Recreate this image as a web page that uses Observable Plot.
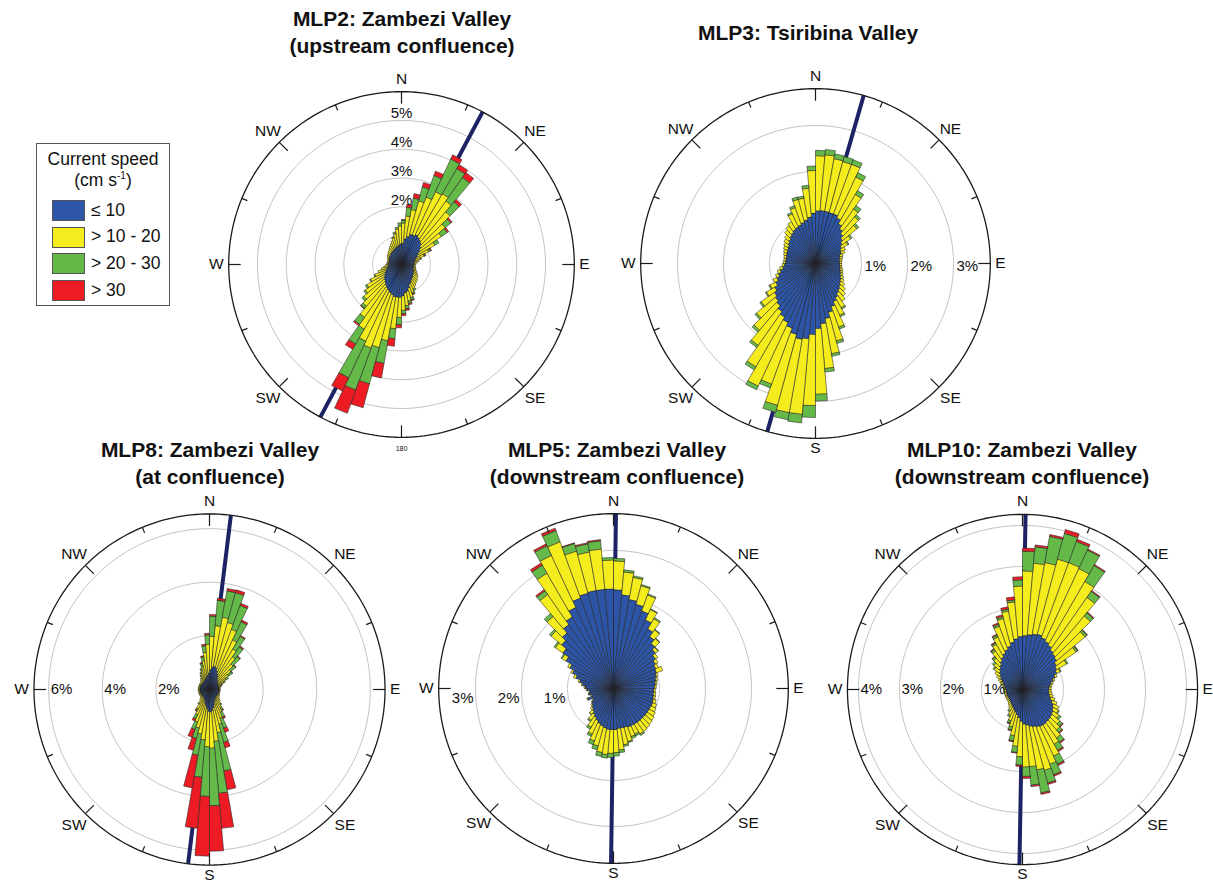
<!DOCTYPE html>
<html><head><meta charset="utf-8">
<script src="https://cdn.jsdelivr.net/npm/d3@7"></script>
<script src="https://cdn.jsdelivr.net/npm/@observablehq/plot@0.6"></script>
<style>
body{margin:0;width:1213px;height:881px;overflow:hidden;background:#fff;position:relative;font-family:"Liberation Sans",Arial,Helvetica,sans-serif;color:#111}
.title{position:absolute;font-weight:bold;font-size:21px;line-height:27px;text-align:center;white-space:nowrap;transform:translateX(-50%)}
.rose{position:absolute;width:400px;height:400px}
.rose svg{display:block}
#legend{position:absolute;left:36px;top:143px;width:132px;height:161px;border:1.5px solid #555;background:#fff}
#legend .lt{position:absolute;left:0;width:132px;text-align:center;font-size:17.5px}
#legend .sw{position:absolute;left:15px;width:31px;height:19px;border:1px solid #555}
#legend .lab{position:absolute;left:54px;font-size:17.5px;line-height:21px;white-space:nowrap}
</style></head>
<body>
<div id="legend"></div>
<script>
// ---- categories ----
const DIRECTIONS = d3.range(72).map(i => 2.5 + 5 * i); // bin centres (deg)
const BIN_WIDTH = 5;
const SPEED_CLASSES = ["≤ 10", "> 10 - 20", "> 20 - 30", "> 30"];
const CLASS_COLORS = ["#2c55a8", "#f5ec1e", "#64b948", "#ed1c24"];
const COMPASS = ["N", "NE", "E", "SE", "S", "SW", "W", "NW"];
const COMPASS_BEARINGS = [0, 45, 90, 135, 180, 225, 270, 315];

// ---- cumulative frequency (%) per direction bin: speed <=10, <=20, <=30, all ----
const MLP2_LE10 = [0.75,0.9,1.0,1.1,1.1,1.15,1.1,1.05,1.0,0.9,
0.8,0.7,0.62,0.55,0.5,0.48,0.45,0.43,0.42,0.42,
0.42,0.43,0.45,0.47,0.5,0.52,0.55,0.58,0.6,0.65,
0.7,0.75,0.85,0.95,1.0,1.1,1.15,1.15,1.15,1.1,
1.05,1.0,0.95,0.9,0.85,0.8,0.75,0.7,0.65,0.6,
0.55,0.5,0.48,0.46,0.45,0.45,0.45,0.45,0.46,0.48,
0.5,0.5,0.52,0.53,0.55,0.56,0.58,0.6,0.62,0.65,
0.68,0.72];
const MLP2_LE20 = [1.45,1.7,1.95,2.3,2.5,2.8,2.85,2.7,2.4,2.0,
1.7,1.35,1.05,0.85,0.7,0.62,0.55,0.5,0.48,0.48,
0.5,0.52,0.55,0.6,0.65,0.7,0.75,0.78,0.82,0.88,
0.95,1.05,1.2,1.3,1.45,1.6,1.85,2.25,2.7,3.0,
3.1,2.95,2.6,2.25,1.9,1.72,1.55,1.4,1.2,1.0,
0.85,0.72,0.62,0.55,0.52,0.5,0.5,0.5,0.52,0.55,
0.58,0.6,0.62,0.65,0.7,0.75,0.8,0.88,0.98,1.1,
1.25,1.35];
const MLP2_LE30 = [1.55,2.0,2.35,2.8,3.3,4.05,3.85,3.7,2.85,2.25,
1.95,1.5,1.12,0.88,0.72,0.62,0.55,0.5,0.48,0.48,
0.5,0.52,0.55,0.6,0.65,0.7,0.75,0.78,0.82,0.88,
1.0,1.1,1.28,1.38,1.55,1.72,2.1,2.6,3.5,4.3,
4.65,4.35,3.2,2.55,2.0,1.8,1.6,1.45,1.22,1.02,
0.85,0.72,0.62,0.55,0.52,0.5,0.5,0.5,0.52,0.55,
0.58,0.6,0.62,0.65,0.7,0.75,0.8,0.88,1.0,1.15,
1.3,1.45];
const MLP2_ALL = [1.56,2.1,2.5,2.95,3.45,4.2,4.0,3.9,2.95,2.3,
2.0,1.5,1.15,0.9,0.72,0.62,0.55,0.5,0.48,0.48,
0.5,0.52,0.55,0.6,0.65,0.7,0.75,0.78,0.82,0.88,
1.0,1.12,1.3,1.42,1.6,1.78,2.2,2.85,4.0,5.15,
5.5,4.85,3.4,2.6,2.02,1.8,1.6,1.45,1.22,1.02,
0.85,0.72,0.62,0.55,0.52,0.5,0.5,0.5,0.52,0.55,
0.58,0.6,0.62,0.65,0.7,0.75,0.8,0.88,1.0,1.15,
1.3,1.45];

const MLP3_LE10 = [1.15,1.16,1.16,1.15,1.15,1.1,1.0,0.92,0.85,0.78,
0.72,0.66,0.62,0.6,0.56,0.54,0.53,0.53,0.53,0.54,
0.55,0.57,0.59,0.62,0.65,0.68,0.72,0.76,0.8,0.86,
0.92,1.0,1.1,1.22,1.32,1.42,1.55,1.65,1.68,1.6,
1.5,1.42,1.35,1.28,1.2,1.15,1.1,1.03,0.96,0.9,
0.84,0.78,0.72,0.68,0.66,0.65,0.65,0.66,0.67,0.68,
0.7,0.73,0.76,0.8,0.83,0.86,0.88,0.9,0.93,0.97,
1.02,1.1];
const MLP3_LE20 = [2.35,2.38,2.32,2.3,2.3,2.08,1.74,1.45,1.33,1.18,
0.94,0.82,0.72,0.68,0.62,0.6,0.58,0.57,0.57,0.58,
0.6,0.62,0.64,0.68,0.72,0.78,0.85,0.92,1.0,1.12,
1.25,1.48,1.75,2.0,2.3,2.85,3.1,3.3,3.3,3.2,
2.8,2.95,2.6,2.18,1.9,1.68,1.45,1.24,1.1,0.98,
0.9,0.84,0.78,0.72,0.7,0.69,0.7,0.72,0.74,0.77,
0.8,0.84,0.88,0.95,1.0,1.05,1.2,1.3,1.45,1.45,
1.65,2.03];
const MLP3_LE30 = [2.46,2.49,2.42,2.41,2.4,2.18,1.83,1.54,1.38,1.23,
0.97,0.84,0.72,0.68,0.62,0.6,0.58,0.57,0.57,0.58,
0.6,0.62,0.64,0.68,0.72,0.78,0.85,0.92,1.0,1.15,
1.28,1.52,1.8,2.05,2.37,2.99,3.35,3.48,3.45,3.35,
2.88,3.03,2.67,2.23,1.95,1.72,1.48,1.26,1.12,0.98,
0.9,0.84,0.78,0.72,0.7,0.69,0.7,0.72,0.74,0.77,
0.8,0.84,0.88,0.95,1.0,1.05,1.23,1.34,1.5,1.49,
1.71,2.12];
const MLP3_ALL = MLP3_LE30.slice();

const MLP8_LE10 = [0.75,0.85,0.88,0.85,0.75,0.65,0.58,0.5,0.45,0.42,
0.4,0.38,0.37,0.36,0.36,0.36,0.36,0.36,0.36,0.36,
0.36,0.36,0.36,0.36,0.36,0.36,0.36,0.37,0.38,0.4,
0.45,0.5,0.6,0.7,0.8,0.85,0.82,0.72,0.62,0.55,
0.48,0.42,0.38,0.37,0.36,0.36,0.36,0.36,0.36,0.36,
0.36,0.36,0.36,0.36,0.36,0.36,0.36,0.36,0.36,0.36,
0.36,0.36,0.36,0.36,0.37,0.38,0.4,0.42,0.45,0.5,
0.55,0.62];
const MLP8_LE20 = [2.0,2.4,2.75,2.6,2.4,2.05,1.75,1.5,1.25,1.05,
0.88,0.72,0.6,0.5,0.45,0.42,0.4,0.4,0.4,0.4,
0.4,0.4,0.4,0.42,0.43,0.45,0.5,0.58,0.68,0.8,
0.95,1.15,1.35,1.65,1.95,2.2,2.15,1.9,1.7,1.5,
1.3,1.05,0.85,0.65,0.52,0.45,0.42,0.42,0.42,0.42,
0.42,0.42,0.42,0.42,0.42,0.42,0.42,0.42,0.42,0.42,
0.42,0.42,0.44,0.48,0.52,0.6,0.68,0.78,0.9,1.1,
1.4,1.7];
const MLP8_LE30 = [2.75,3.35,3.75,3.75,3.35,2.8,2.3,1.95,1.62,1.28,
1.05,0.82,0.65,0.53,0.46,0.42,0.4,0.4,0.4,0.4,
0.4,0.4,0.4,0.42,0.43,0.45,0.5,0.58,0.72,0.9,
1.15,1.55,2.05,3.1,3.9,4.35,4.0,3.3,2.5,1.9,
1.6,1.22,0.92,0.68,0.52,0.45,0.42,0.42,0.42,0.42,
0.42,0.42,0.42,0.42,0.42,0.42,0.42,0.42,0.42,0.42,
0.42,0.42,0.44,0.48,0.53,0.62,0.72,0.85,1.02,1.25,
1.65,2.05];
const MLP8_ALL = [2.8,3.42,3.83,3.85,3.42,2.86,2.33,1.98,1.64,1.3,
1.06,0.82,0.65,0.53,0.46,0.42,0.4,0.4,0.4,0.4,
0.4,0.4,0.4,0.42,0.43,0.45,0.5,0.58,0.72,0.92,
1.2,1.7,2.25,3.8,5.2,6.04,6.22,5.2,3.73,2.35,
1.9,1.3,0.95,0.68,0.52,0.45,0.42,0.42,0.42,0.42,
0.42,0.42,0.42,0.42,0.42,0.42,0.42,0.42,0.42,0.42,
0.42,0.42,0.44,0.48,0.53,0.62,0.72,0.85,1.05,1.28,
1.7,2.1];

const MLP5_LE10 = [2.15,2.05,1.97,1.9,1.8,1.65,1.5,1.38,1.28,1.2,
1.12,1.06,1.02,1.0,0.97,0.94,0.92,0.9,0.88,0.88,
0.89,0.9,0.91,0.9,0.9,0.9,0.9,0.9,0.9,0.9,
0.9,0.9,0.88,0.88,0.88,0.9,0.9,0.9,0.88,0.85,
0.82,0.78,0.74,0.7,0.66,0.62,0.58,0.55,0.5,0.6,
0.5,0.55,0.52,0.58,0.62,0.68,0.75,0.85,0.95,1.05,
1.2,1.35,1.48,1.58,1.7,1.8,1.95,2.1,2.15,2.17,
2.17,2.17];
const MLP5_LE20 = [2.78,2.55,2.46,2.32,2.17,1.9,1.76,1.56,1.42,1.27,
1.18,1.12,1.08,1.14,1.0,0.97,0.95,0.93,0.91,0.92,
0.93,0.96,1.0,1.02,1.05,1.08,1.1,1.12,1.14,1.15,
1.1,1.12,1.2,1.25,1.35,1.4,1.42,1.45,1.42,1.3,
1.22,1.1,0.98,0.85,0.74,0.66,0.6,0.56,0.52,0.62,
0.52,0.56,0.53,0.6,0.64,0.7,0.78,0.9,0.98,1.1,
1.3,1.55,1.78,2.05,2.5,2.9,3.2,3.4,3.1,3.02,
3.05,2.8];
const MLP5_LE30 = [2.83,2.59,2.49,2.34,2.19,1.91,1.78,1.57,1.43,1.28,
1.18,1.12,1.08,1.14,1.0,0.97,0.95,0.93,0.91,0.92,
0.93,0.96,1.0,1.02,1.05,1.08,1.1,1.12,1.14,1.18,
1.14,1.16,1.22,1.28,1.4,1.47,1.5,1.52,1.5,1.38,
1.3,1.15,1.02,0.88,0.75,0.66,0.6,0.56,0.52,0.62,
0.52,0.56,0.53,0.6,0.64,0.7,0.78,0.9,0.98,1.1,
1.32,1.58,1.82,2.13,2.6,3.1,3.43,3.66,3.27,3.2,
3.23,2.85];
const MLP5_ALL = [2.83,2.59,2.49,2.34,2.19,1.91,1.78,1.57,1.43,1.28,
1.18,1.12,1.08,1.14,1.0,0.97,0.95,0.93,0.91,0.92,
0.93,0.96,1.0,1.02,1.05,1.08,1.1,1.12,1.14,1.18,
1.14,1.16,1.22,1.28,1.4,1.47,1.5,1.52,1.5,1.38,
1.3,1.15,1.02,0.88,0.75,0.66,0.6,0.56,0.52,0.62,
0.52,0.56,0.53,0.6,0.64,0.7,0.78,0.9,0.98,1.1,
1.32,1.58,1.82,2.13,2.63,3.15,3.47,3.71,3.28,3.22,
3.25,2.85];

const MLP10_LE10 = [1.32,1.35,1.38,1.4,1.35,1.3,1.25,1.18,1.14,1.1,
1.02,0.97,0.93,0.85,0.78,0.72,0.68,0.65,0.64,0.65,
0.68,0.72,0.78,0.84,0.88,0.92,0.95,0.97,0.98,1.0,
1.0,0.98,0.95,0.92,0.88,0.85,0.78,0.7,0.63,0.58,
0.54,0.5,0.47,0.45,0.43,0.42,0.4,0.4,0.4,0.4,
0.4,0.4,0.4,0.4,0.42,0.44,0.47,0.5,0.55,0.6,
0.65,0.7,0.75,0.8,0.86,0.92,0.98,1.04,1.1,1.18,
1.25,1.3];
const MLP10_LE20 = [2.9,3.1,3.15,3.3,3.3,3.26,3.05,2.75,2.35,2.0,
1.6,1.25,1.02,0.9,0.82,0.76,0.72,0.7,0.7,0.72,
0.76,0.82,0.9,0.98,1.02,1.1,1.2,1.3,1.45,1.55,
1.8,1.95,2.05,2.0,1.9,1.9,1.65,1.4,1.15,0.95,
0.82,0.7,0.6,0.54,0.5,0.47,0.45,0.45,0.45,0.45,
0.45,0.45,0.45,0.45,0.46,0.48,0.52,0.57,0.63,0.7,
0.78,0.85,0.92,1.0,1.15,1.28,1.42,1.65,1.8,1.95,
2.15,2.53];
const MLP10_LE30 = [3.38,3.5,3.8,3.95,3.85,3.76,3.5,2.93,2.45,2.06,
1.65,1.28,1.04,0.9,0.82,0.76,0.72,0.7,0.7,0.72,
0.76,0.82,0.9,0.98,1.04,1.15,1.28,1.38,1.58,1.72,
2.02,2.22,2.37,2.57,2.35,2.13,1.85,1.55,1.28,1.03,
0.88,0.74,0.63,0.54,0.5,0.47,0.45,0.45,0.45,0.45,
0.45,0.45,0.45,0.45,0.46,0.48,0.52,0.57,0.63,0.7,
0.78,0.88,0.96,1.05,1.2,1.32,1.47,1.7,1.85,2.0,
2.2,2.68];
const MLP10_ALL = [3.45,3.54,3.84,4.04,3.9,3.78,3.52,2.95,2.47,2.07,
1.66,1.28,1.04,0.9,0.82,0.76,0.72,0.7,0.7,0.72,
0.76,0.82,0.9,0.98,1.04,1.15,1.3,1.4,1.6,1.75,
2.05,2.25,2.4,2.6,2.38,2.17,1.88,1.56,1.3,1.05,
0.9,0.74,0.63,0.54,0.5,0.47,0.45,0.45,0.45,0.45,
0.45,0.45,0.45,0.45,0.46,0.48,0.52,0.57,0.63,0.7,
0.78,0.88,0.96,1.06,1.22,1.34,1.49,1.73,1.89,2.05,
2.27,2.75];

// ---- rings / tick labels / valley axis bearing ----
const MLP2_RINGS = [1, 2, 3, 4, 5], MLP2_RING_LABELS = [2, 3, 4, 5], MLP2_AXIS = 28, MLP2_MAX = 6;
const MLP3_RINGS = [1, 2, 3], MLP3_RING_LABELS = [1, 2, 3], MLP3_AXIS = 16, MLP3_MAX = 3.8;
const MLP8_RINGS = [2, 4, 6], MLP8_RING_LABELS = [2, 4, 6], MLP8_AXIS = 7, MLP8_MAX = 6.55;
const MLP5_RINGS = [1, 2, 3], MLP5_RING_LABELS = [1, 2, 3], MLP5_AXIS = 0.8, MLP5_MAX = 3.8;
const MLP10_RINGS = [1, 2, 3, 4], MLP10_RING_LABELS = [1, 2, 3, 4], MLP10_AXIS = 1, MLP10_MAX = 4.27;

// ---- layout ----
const stations = [
  {title: ["MLP2: Zambezi Valley", "(upstream confluence)"], cum: [MLP2_LE10, MLP2_LE20, MLP2_LE30, MLP2_ALL],
   rings: MLP2_RINGS, ringLabels: MLP2_RING_LABELS, axis: MLP2_AXIS, outer: MLP2_MAX,
   cx: 401, cy: 264, k: 28.8, mode: "top", south: "180", tx: 402, ty: 5},
  {title: ["MLP3: Tsiribina Valley"], cum: [MLP3_LE10, MLP3_LE20, MLP3_LE30, MLP3_ALL],
   rings: MLP3_RINGS, ringLabels: MLP3_RING_LABELS, axis: MLP3_AXIS, outer: MLP3_MAX,
   cx: 815, cy: 263, k: 46, mode: "east", south: "S", tx: 808, ty: 19},
  {title: ["MLP8: Zambezi Valley", "(at confluence)"], cum: [MLP8_LE10, MLP8_LE20, MLP8_LE30, MLP8_ALL],
   rings: MLP8_RINGS, ringLabels: MLP8_RING_LABELS, axis: MLP8_AXIS, outer: MLP8_MAX,
   cx: 209, cy: 689, k: 26.8, mode: "westIn", south: "S", tx: 210, ty: 436},
  {title: ["MLP5: Zambezi Valley", "(downstream confluence)"], cum: [MLP5_LE10, MLP5_LE20, MLP5_LE30, MLP5_ALL],
   rings: MLP5_RINGS, ringLabels: MLP5_RING_LABELS, axis: MLP5_AXIS, outer: MLP5_MAX,
   cx: 613, cy: 688, k: 46, mode: "westOut", south: "S", tx: 617, ty: 436},
  {title: ["MLP10: Zambezi Valley", "(downstream confluence)"], cum: [MLP10_LE10, MLP10_LE20, MLP10_LE30, MLP10_ALL],
   rings: MLP10_RINGS, ringLabels: MLP10_RING_LABELS, axis: MLP10_AXIS, outer: MLP10_MAX,
   cx: 1022, cy: 689, k: 41, mode: "westIn", south: "S", tx: 1022, ty: 436}
];

const rad = d => d * Math.PI / 180;
const P = (r, a) => ({x: r * Math.sin(rad(a)), y: r * Math.cos(rad(a))});
const FONT = '"Liberation Sans", Arial, Helvetica, sans-serif';
const CFS = 15.5; // compass label size

function rose(s) {
  const k = s.k, R = s.outer, half = 200 / k;
  const wedges = [];
  DIRECTIONS.forEach((dir, i) => {
    s.cum.forEach((arr, c) => {
      const r0 = c === 0 ? 0 : s.cum[c - 1][i];
      const r1 = arr[i];
      if (r1 - r0 <= 0.0005) return;
      const a0 = dir - BIN_WIDTH / 2, a1 = dir + BIN_WIDTH / 2, id = i + "-" + c;
      for (const [r, a] of [[r0, a0], [r1, a0], [r1, a1], [r0, a1]]) wedges.push({id, cls: c, ...P(r, a)});
    });
  });
  const circle = (r, id) => d3.range(0, 360, 1.5).map(a => ({id, ...P(r, a)}));
  const ringPts = s.rings.flatMap(r => circle(r, r));
  const outerPts = circle(R, "outer");
  const ticks = d3.range(0, 360, 22.5).map(a => {
    const inner = R - (a % 45 === 0 ? 12 : 6) / k;
    const p = P(inner, a), q = P(R, a);
    return {x1: p.x, y1: p.y, x2: q.x, y2: q.y};
  });
  const lab = [];
  COMPASS.forEach((t, j) => {
    const a = COMPASS_BEARINGS[j];
    let text = t;
    if (t === "S") text = s.south;
    if (t === "N") lab.push({...P(R + 13 / k, a), text, anchor: "middle", size: CFS});
    else if (t === "S") lab.push({...P(R + (s.south === "S" ? 9.5 : 11) / k, a), text, anchor: "middle", size: s.south === "S" ? CFS : 7});
    else if (t === "E") lab.push({...P(R + 5 / k, a), text, anchor: "start", size: CFS});
    else if (t === "W") lab.push({...P(R + 5 / k, a), text, anchor: "end", size: CFS});
    else lab.push({...P(R + 16 / k, a), text, anchor: "middle", size: CFS});
  });
  const ringLab = s.ringLabels.map(v => {
    if (s.mode === "top") return {x: 0, y: v + 7 / k, text: v + "%", anchor: "middle"};
    if (s.mode === "east") return {x: v + 3 / k, y: -3 / k, text: v + "%", anchor: "start"};
    if (s.mode === "westIn") return {x: -v + 2 / k, y: 0, text: v + "%", anchor: "start"};
    return {x: -v - 2 / k, y: -10 / k, text: v + "%", anchor: "end"};
  });
  const axA = P(R, s.axis), axB = P(R, s.axis + 180);
  const textMarks = [];
  for (const anchor of ["middle", "start", "end"]) {
    for (const size of [CFS, 7]) {
      const d = lab.filter(l => l.anchor === anchor && l.size === size);
      if (d.length) textMarks.push(Plot.text(d, {x: "x", y: "y", text: "text", textAnchor: anchor, fontSize: size, fill: "#111", lineAnchor: "middle"}));
    }
    const r = ringLab.filter(l => l.anchor === anchor);
    if (r.length) textMarks.push(Plot.text(r, {x: "x", y: "y", text: "text", textAnchor: anchor, fontSize: 15, fill: "#111", lineAnchor: "middle"}));
  }
  return Plot.plot({
    width: 400, height: 400, margin: 0,
    x: {domain: [-half, half], axis: null},
    y: {domain: [-half, half], axis: null},
    style: {fontFamily: FONT, background: "transparent", overflow: "visible"},
    marks: [
      Plot.line(ringPts, {x: "x", y: "y", z: "id", curve: "linear-closed", stroke: "#bcbcbc", strokeWidth: 0.9}),
      Plot.link([{x1: axB.x, y1: axB.y, x2: axA.x, y2: axA.y}], {x1: "x1", y1: "y1", x2: "x2", y2: "y2", stroke: "#1d2264", strokeWidth: 4, strokeLinecap: "butt"}),
      ...SPEED_CLASSES.map((cls, c) => Plot.line(wedges.filter(w => w.cls === c), {
        x: "x", y: "y", z: "id", curve: "linear-closed", fill: CLASS_COLORS[c],
        stroke: "#222", strokeWidth: 0.55, strokeLinejoin: "miter"})),
      Plot.line(outerPts, {x: "x", y: "y", z: "id", curve: "linear-closed", stroke: "#1a1a1a", strokeWidth: 1.3}),
      Plot.link(ticks, {x1: "x1", y1: "y1", x2: "x2", y2: "y2", stroke: "#1a1a1a", strokeWidth: 1.2}),
      ...textMarks
    ]
  });
}

for (const s of stations) {
  const t = document.createElement("div");
  t.className = "title";
  t.style.left = s.tx + "px";
  t.style.top = s.ty + "px";
  t.innerHTML = s.title.map(l => "<div>" + l + "</div>").join("");
  document.body.appendChild(t);
  const d = document.createElement("div");
  d.className = "rose";
  d.style.left = (s.cx - 200) + "px";
  d.style.top = (s.cy - 200) + "px";
  d.appendChild(rose(s));
  document.body.appendChild(d);
}

// legend
const lg = document.getElementById("legend");
lg.innerHTML = '<div class="lt" style="top:5px">Current speed</div>' +
  '<div class="lt" style="top:26px">(cm s<sup style="font-size:10px">-1</sup>)</div>';
SPEED_CLASSES.forEach((cls, c) => {
  const top = 56 + c * 26.7;
  lg.innerHTML += '<div class="sw" style="top:' + top + 'px;background:' + CLASS_COLORS[c] + '"></div>' +
    '<div class="lab" style="top:' + (top - 0.5) + 'px">' + cls + '</div>';
});
</script>
</body></html>
